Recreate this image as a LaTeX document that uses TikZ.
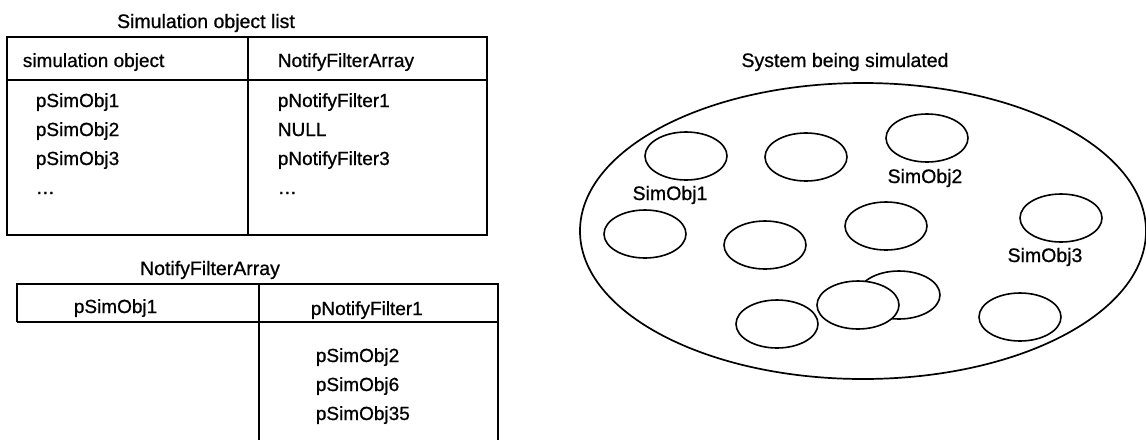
\documentclass[tikz,border=0pt]{standalone}
\usepackage{fontspec}
\setmainfont{Liberation Sans}
\newfontfamily\medfont{Liberation Sans}[UprightFeatures={FakeBold=0.8}]
\begin{document}
\begin{tikzpicture}[x=1pt,y=-1pt,line width=1.7pt,
  lbl/.style={inner sep=0pt,anchor=base west,font=\medfont\fontsize{19}{22}\selectfont},
  ttl/.style={inner sep=0pt,anchor=base,font=\medfont\fontsize{19.5}{22}\selectfont},
  obj/.style={draw,fill=white,line width=1.6pt}]
\useasboundingbox (0,0) rectangle (1146,440);

% ---- simulation object list ----
\node[ttl] (listtitle) at (206,28) {Simulation object list};
\draw (7,37) rectangle (487,235);
\draw (7,80) -- (487,80);
\draw (248,37) -- (248,235);
\node[lbl] (hsim) at (22,67) {simulation object};
\node[lbl] (hnfa) at (277,67) {NotifyFilterArray};
\node[lbl] (so1) at (35,107) {pSimObj1};
\node[lbl] (so2) at (35,136) {pSimObj2};
\node[lbl] (so3) at (35,165) {pSimObj3};
\node[lbl] (sodots) at (35,194) {\dots};
\node[lbl] (nf1) at (277,107) {pNotifyFilter1};
\node[lbl] (nfnull) at (277,136) {NULL};
\node[lbl] (nf3) at (277,165) {pNotifyFilter3};
\node[lbl] (nfdots) at (277,194) {\dots};

% ---- notify filter array ----
\node[ttl] (arrtitle) at (210,275) {NotifyFilterArray};
\draw (17,322) -- (17,284) -- (498,284) -- (498,440);
\draw (17,322) -- (498,322);
\draw (259,284) -- (259,440);
\node[lbl] (aso1) at (73,313) {pSimObj1};
\node[lbl] (anf1) at (310,315) {pNotifyFilter1};
\node[lbl] (aso2) at (315,362) {pSimObj2};
\node[lbl] (aso6) at (315,391) {pSimObj6};
\node[lbl] (aso35) at (315,420) {pSimObj35};

% ---- system being simulated ----
\node[ttl] (systitle) at (845,67) {System being simulated};
\draw (863,231) ellipse [x radius=283, y radius=148];
\foreach \cx/\cy in {686/156, 806/157, 927/138, 645/234, 765/245, 886/226,
                     1061/218, 777/324, 899/295, 858/305, 1020/317}
  \draw[obj] (\cx,\cy) ellipse [x radius=41, y radius=24];
\node[ttl] (lab1) at (670,200) {SimObj1};
\node[ttl] (lab2) at (925,183) {SimObj2};
\node[ttl] (lab3) at (1045,262) {SimObj3};
\end{tikzpicture}
\end{document}
